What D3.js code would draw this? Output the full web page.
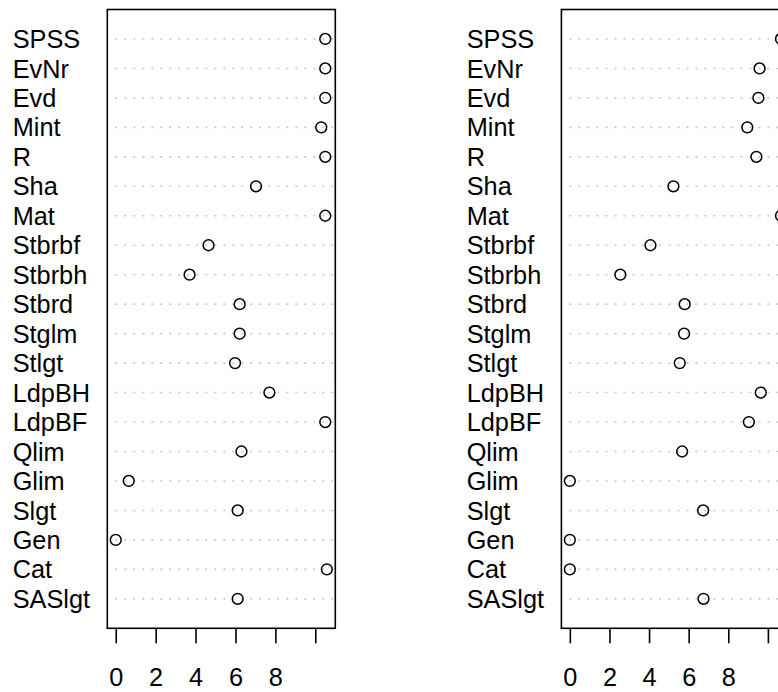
<!DOCTYPE html>
<html>
<head>
<meta charset="utf-8">
<script src="https://cdn.jsdelivr.net/npm/d3@7.9.0/dist/d3.min.js"></script>
<style>
  html, body { margin: 0; padding: 0; background: #fff; }
  svg { display: block; font-family: "Liberation Sans", Arial, Helvetica, sans-serif; }
</style>
</head>
<body>
<svg id="chart" width="778" height="692"></svg>
<script>
// dot chart values, top row first
const categories = ['SPSS', 'EvNr', 'Evd', 'Mint', 'R', 'Sha', 'Mat', 'Stbrbf', 'Stbrbh', 'Stbrd',
  'Stglm', 'Stlgt', 'LdpBH', 'LdpBF', 'Qlim', 'Glim', 'Slgt', 'Gen', 'Cat', 'SASlgt'];

const leftValues = [10.5, 10.5, 10.5, 10.3, 10.5, 7.03, 10.5, 4.65, 3.7, 6.21,
  6.21, 5.98, 7.7, 10.5, 6.3, 0.65, 6.11, 0, 10.58, 6.11];

const rightValues = [10.66, 9.58, 9.52, 8.96, 9.42, 5.23, 10.66, 4.07, 2.55, 5.8,
  5.77, 5.55, 9.64, 9.04, 5.67, 0, 6.73, 0, 0, 6.75];

const tickValues = [0, 2, 4, 6, 8, 10];
const tickLabels = ['0', '2', '4', '6', '8'];

const svg = d3.select('#chart');
const fontSize = 25.3;
const boxTop = 9.5, boxBottom = 628.3, boxWidth = 228;

const panels = [
  { values: leftValues, boxLeft: 107.3, labelX: 12.7 },
  { values: rightValues, boxLeft: 561.4, labelX: 466.7 }
];

// R style: rows sit at 1..n, ylim 0..n+1
const y = d3.scaleLinear().domain([0, categories.length + 1]).range([boxBottom, boxTop]);
const rowY = i => y(categories.length - i);

panels.forEach(p => {
  const [lo, hi] = d3.extent(p.values);
  const pad = (hi - lo) * 0.04;
  const x = d3.scaleLinear().domain([lo - pad, hi + pad]).range([p.boxLeft, p.boxLeft + boxWidth]);

  const g = svg.append('g');

  // dotted guide lines
  g.selectAll('line.guide')
    .data(categories)
    .enter()
    .append('line')
    .attr('class', 'guide')
    .attr('x1', p.boxLeft + 8)
    .attr('x2', p.boxLeft + boxWidth - 2)
    .attr('y1', (d, i) => rowY(i))
    .attr('y2', (d, i) => rowY(i))
    .attr('stroke', '#c8c8c8')
    .attr('stroke-width', 1.6)
    .attr('stroke-dasharray', '2 7');

  // row labels
  g.selectAll('text.label')
    .data(categories)
    .enter()
    .append('text')
    .attr('class', 'label')
    .attr('x', p.labelX)
    .attr('y', (d, i) => rowY(i) + fontSize * 0.36)
    .attr('font-size', fontSize)
    .attr('fill', '#000')
    .text(d => d);

  // points
  g.selectAll('circle')
    .data(p.values)
    .enter()
    .append('circle')
    .attr('cx', d => x(d))
    .attr('cy', (d, i) => rowY(i))
    .attr('r', 5.4)
    .attr('fill', 'none')
    .attr('stroke', '#000')
    .attr('stroke-width', 1.5);

  // box
  g.append('rect')
    .attr('x', p.boxLeft)
    .attr('y', boxTop)
    .attr('width', boxWidth)
    .attr('height', boxBottom - boxTop)
    .attr('fill', 'none')
    .attr('stroke', '#000')
    .attr('stroke-width', 1.6);

  // bottom axis
  const axis = d3.axisBottom(x)
    .tickValues(tickValues)
    .tickSize(15)
    .tickSizeOuter(0)
    .tickPadding(25)
    .tickFormat(d => tickLabels.includes(String(d)) ? String(d) : '');

  const ax = g.append('g')
    .attr('transform', `translate(0,${boxBottom})`)
    .call(axis);
  ax.select('.domain').remove();
  ax.selectAll('.tick line').attr('stroke', '#000').attr('stroke-width', 1.6);
  ax.selectAll('.tick text')
    .attr('font-size', fontSize)
    .attr('font-family', '"Liberation Sans", Arial, sans-serif')
    .attr('fill', '#000');
});
</script>
</body>
</html>
